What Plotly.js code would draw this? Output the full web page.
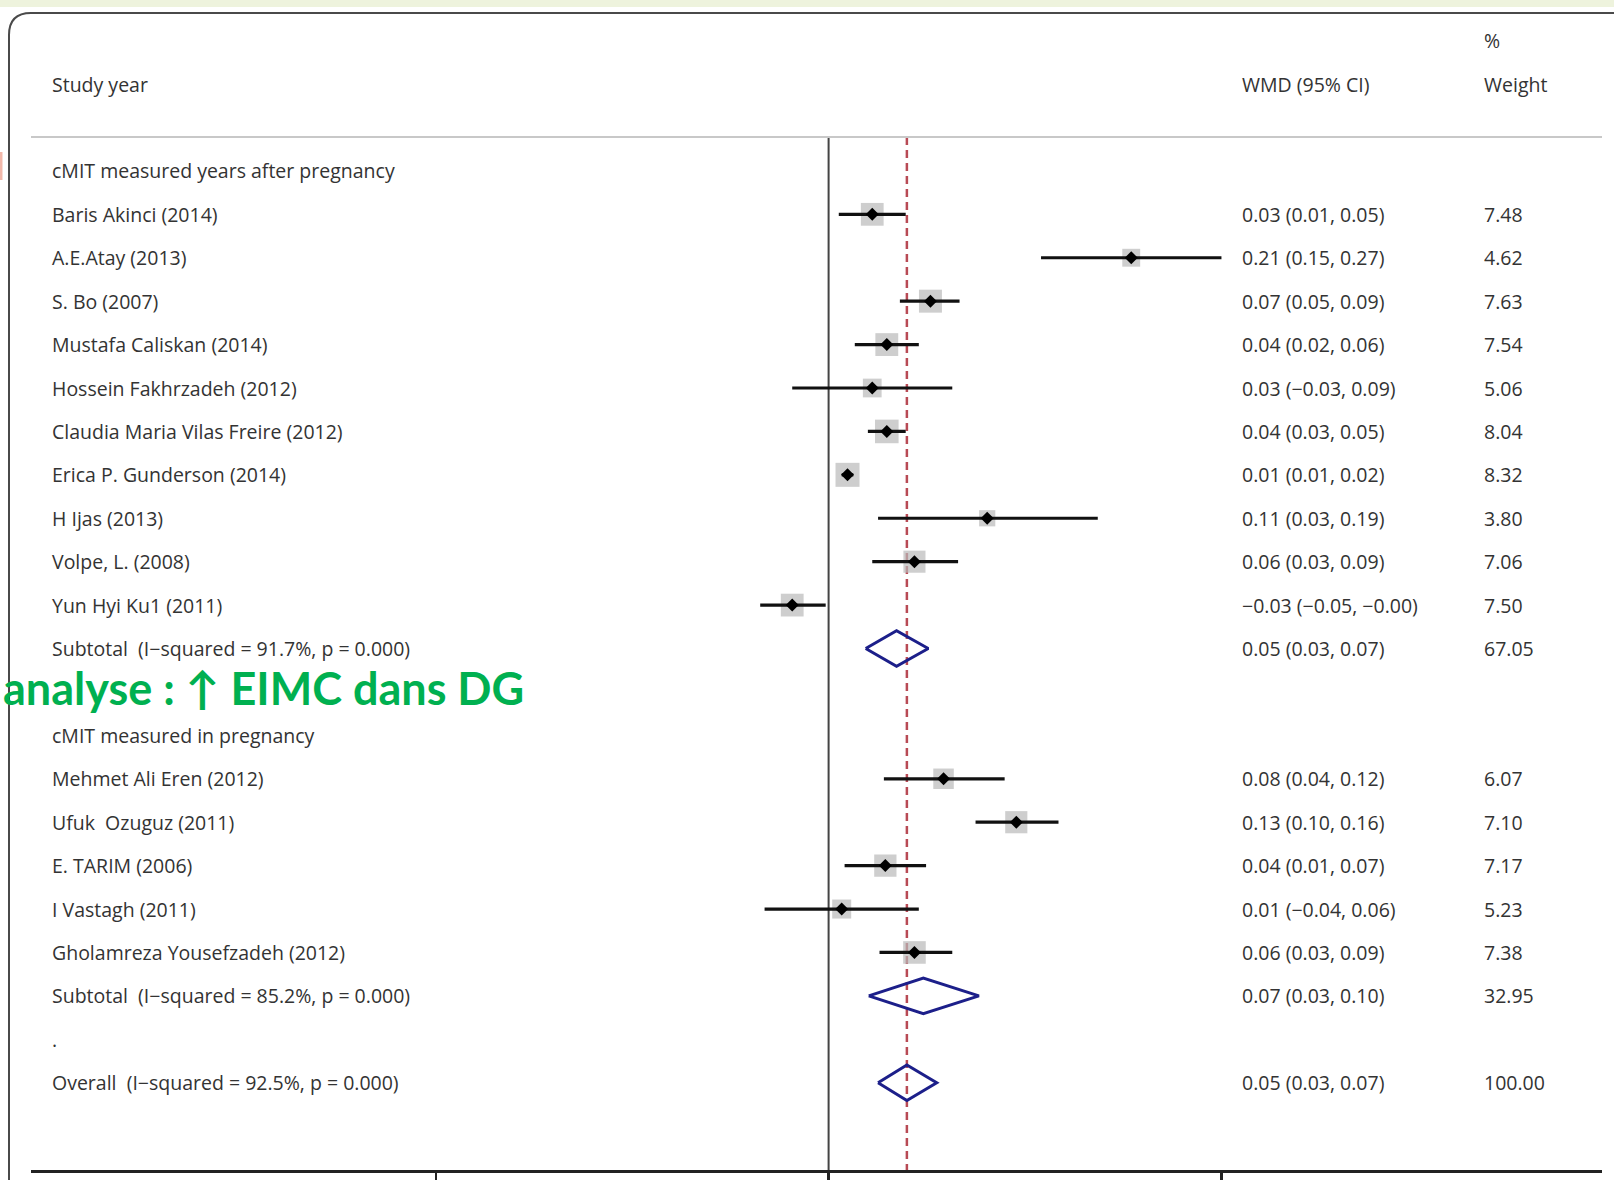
<!DOCTYPE html>
<html>
<head>
<meta charset="utf-8">
<script src="https://cdn.plot.ly/plotly-3.0.1.min.js"></script>
<style>html,body{margin:0;padding:0;background:#fff;}#chart{width:1614px;height:1180px;}</style>
</head>
<body>
<div id="chart"></div>
<script>
// ---------------- DATA ----------------
const groupTitles = ["cMIT measured years after pregnancy", "cMIT measured in pregnancy"];
const studyNames = [
  "Baris Akinci (2014)", "A.E.Atay (2013)", "S. Bo (2007)", "Mustafa Caliskan (2014)",
  "Hossein Fakhrzadeh (2012)", "Claudia Maria Vilas Freire (2012)", "Erica P. Gunderson (2014)",
  "H Ijas (2013)", "Volpe, L. (2008)", "Yun Hyi Ku1 (2011)",
  "Mehmet Ali Eren (2012)", "Ufuk\u00a0\u00a0Ozuguz (2011)", "E. TARIM (2006)", "I Vastagh (2011)",
  "Gholamreza Yousefzadeh (2012)"
];
const studyGroup = [0,0,0,0,0,0,0,0,0,0, 1,1,1,1,1];
const studyEst = [0.030, 0.208, 0.070, 0.040, 0.030, 0.040, 0.013, 0.109, 0.059, -0.025,
                  0.079, 0.129, 0.039, 0.009, 0.059];
const studyLo  = [0.007, 0.146, 0.049, 0.018, -0.025, 0.027, 0.009, 0.034, 0.030, -0.047,
                  0.038, 0.101, 0.011, -0.044, 0.035];
const studyHi  = [0.053, 0.270, 0.090, 0.062, 0.085, 0.053, 0.017, 0.185, 0.089, -0.002,
                  0.121, 0.158, 0.067, 0.062, 0.085];
const studyWeight = [7.48, 4.62, 7.63, 7.54, 5.06, 8.04, 8.32, 3.80, 7.06, 7.50,
                     6.07, 7.10, 7.17, 5.23, 7.38];
const studyCI = [
  "0.03 (0.01, 0.05)", "0.21 (0.15, 0.27)", "0.07 (0.05, 0.09)", "0.04 (0.02, 0.06)",
  "0.03 (\u22120.03, 0.09)", "0.04 (0.03, 0.05)", "0.01 (0.01, 0.02)", "0.11 (0.03, 0.19)",
  "0.06 (0.03, 0.09)", "\u22120.03 (\u22120.05, \u22120.00)",
  "0.08 (0.04, 0.12)", "0.13 (0.10, 0.16)", "0.04 (0.01, 0.07)", "0.01 (\u22120.04, 0.06)",
  "0.06 (0.03, 0.09)"
];
const subtotalLabels = ["Subtotal\u00a0\u00a0(I\u2212squared = 91.7%, p = 0.000)",
                        "Subtotal\u00a0\u00a0(I\u2212squared = 85.2%, p = 0.000)"];
const subtotalEst = [0.0467, 0.0651];
const subtotalLo  = [0.0255, 0.0276];
const subtotalHi  = [0.0685, 0.1033];
const subtotalCI  = ["0.05 (0.03, 0.07)", "0.07 (0.03, 0.10)"];
const subtotalWeight = ["67.05", "32.95"];
const overallLabel = "Overall\u00a0\u00a0(I\u2212squared = 92.5%, p = 0.000)";
const overallEst = 0.0538, overallLo = 0.034, overallHi = 0.0743;
const overallCI = "0.05 (0.03, 0.07)";
const overallWeight = "100.00";
const headerStudy = "Study year", headerCI = "WMD (95% CI)", headerPct = "%", headerWeight = "Weight";
const xTicks = [-0.27, 0, 0.27];
const overlayText = "analyse : \u2191 EIMC dans DG";

// ---------------- LAYOUT HELPERS ----------------
const W = 1614, H = 1180, ML = 31, MR = 12, MT = 0, MB = 10;
const plotW = W - ML - MR, plotH = H - MT - MB;
const px = p => (p - ML) / plotW;          // pixel x -> paper x
const py = p => (H - MB - p) / plotH;      // pixel y -> paper y

// build row structure
const rows = [];
let r = 0;
const studyRow = [], subtotalRow = [];
groupTitles.forEach((t, g) => {
  rows.push({row: r++, label: t});
  studyNames.forEach((n, i) => {
    if (studyGroup[i] === g) {
      studyRow[i] = r;
      rows.push({row: r++, label: n, ci: studyCI[i], wt: studyWeight[i].toFixed(2)});
    }
  });
  subtotalRow[g] = r;
  rows.push({row: r++, label: subtotalLabels[g], ci: subtotalCI[g], wt: subtotalWeight[g]});
  if (g < groupTitles.length - 1) { rows.push({row: r++, label: ""}); }
  else { rows.push({row: r++, label: "."}); }
});
const overallRow = r;
rows.push({row: r++, label: overallLabel, ci: overallCI, wt: overallWeight});

// ---------------- TRACES ----------------
const ciX = [], ciY = [];
studyNames.forEach((n, i) => { ciX.push(studyLo[i], studyHi[i], null); ciY.push(studyRow[i], studyRow[i], null); });

const boxes = {
  type: 'scatter', mode: 'markers', hoverinfo: 'skip', showlegend: false,
  x: studyEst, y: studyRow,
  marker: {symbol: 'square', size: studyWeight.map(w => 24 * Math.sqrt(w / 8.32)), color: '#b9b9b9', line: {width: 0}}
};
const ciLines = {
  type: 'scatter', mode: 'lines', hoverinfo: 'skip', showlegend: false,
  x: ciX, y: ciY, line: {color: '#111', width: 3.2}
};
const points = {
  type: 'scatter', mode: 'markers', hoverinfo: 'skip', showlegend: false,
  x: studyEst, y: studyRow,
  marker: {symbol: 'diamond', size: 10, color: '#000'}
};
const halfH = 0.41;
const dX = [], dY = [];
function addDiamond(lo, est, hi, row) {
  dX.push(lo, est, hi, est, lo, null);
  dY.push(row, row - halfH, row, row + halfH, row, null);
}
subtotalEst.forEach((e, g) => addDiamond(subtotalLo[g], e, subtotalHi[g], subtotalRow[g]));
addDiamond(overallLo, overallEst, overallHi, overallRow);
const diamonds = {
  type: 'scatter', mode: 'lines', hoverinfo: 'skip', showlegend: false,
  x: dX, y: dY, line: {color: '#1c1f8a', width: 3}
};

// ---------------- ANNOTATIONS ----------------
const txtFont = {family: 'Open Sans, sans-serif', size: 19.5, color: '#333'};
const ann = [];
function addText(text, xpix, row, font) {
  ann.push({text: text, xref: 'paper', x: px(xpix), yref: 'y', y: row, xanchor: 'left', yanchor: 'middle',
            showarrow: false, font: font || txtFont});
}
rows.forEach(o => {
  if (o.label) addText(o.label, 50, o.row);
  if (o.ci) addText(o.ci, 1240, o.row);
  if (o.wt) addText(o.wt, 1482, o.row);
});
addText(headerStudy, 50, -2);
addText(headerCI, 1240, -2);
addText(headerPct, 1482, -3);
addText(headerWeight, 1482, -2);
ann.push({text: overlayText, xref: 'paper', x: px(1), yref: 'y', y: 11.9, xanchor: 'left', yanchor: 'middle',
          showarrow: false, font: {family: 'Lato, sans-serif', size: 45, color: '#00b050', weight: 'bold'}});

// ---------------- SHAPES ----------------
const ruleRow = -0.78;
const shapes = [
  {type: 'rect', xref: 'paper', yref: 'paper', x0: px(0), x1: px(W), y0: py(0), y1: py(7), fillcolor: '#eef3dd', line: {width: 0}, layer: 'below'},
  {type: 'path', xref: 'paper', yref: 'paper',
   path: `M ${px(9)},${py(H)} L ${px(9)},${py(35)} Q ${px(9)},${py(13)} ${px(31)},${py(13)} L ${px(W)},${py(13)}`,
   line: {color: '#4a4a4a', width: 2}},
  {type: 'rect', xref: 'paper', yref: 'paper', x0: px(0), x1: px(2.5), y0: py(180), y1: py(152), fillcolor: '#f2b8aa', line: {width: 0}},
  {type: 'line', xref: 'paper', yref: 'y', x0: px(31), x1: px(1602), y0: ruleRow, y1: ruleRow, line: {color: '#c8c8c8', width: 2}},
  {type: 'line', xref: 'x', yref: 'y', x0: 0, x1: 0, y0: ruleRow, y1: 23.01, line: {color: '#444', width: 2}, layer: 'below'},
  {type: 'line', xref: 'x', yref: 'y', x0: overallEst, x1: overallEst, y0: ruleRow, y1: 23.01, line: {color: '#b84a55', width: 2.5, dash: '8px,5px'}, layer: 'below'}
];

const layout = {
  width: W, height: H, margin: {l: ML, r: MR, t: MT, b: MB},
  paper_bgcolor: '#fff', plot_bgcolor: '#fff', showlegend: false,
  xaxis: {range: [(ML - 828.6) / 1455, (W - MR - 828.6) / 1455], showgrid: false, zeroline: false,
          showline: true, linecolor: '#222', linewidth: 3, ticks: 'outside', ticklen: 12, tickwidth: 2.5,
          tickcolor: '#222', tickvals: xTicks, showticklabels: false, fixedrange: true, automargin: false},
  yaxis: {range: [(H - MB - 170.9) / 43.42, -170.9 / 43.42], showgrid: false, zeroline: false, showline: false,
          ticks: '', showticklabels: false, fixedrange: true, automargin: false},
  annotations: ann, shapes: shapes
};

Plotly.newPlot('chart', [boxes, ciLines, points, diamonds], layout, {staticPlot: true, displayModeBar: false});
</script>
</body>
</html>
